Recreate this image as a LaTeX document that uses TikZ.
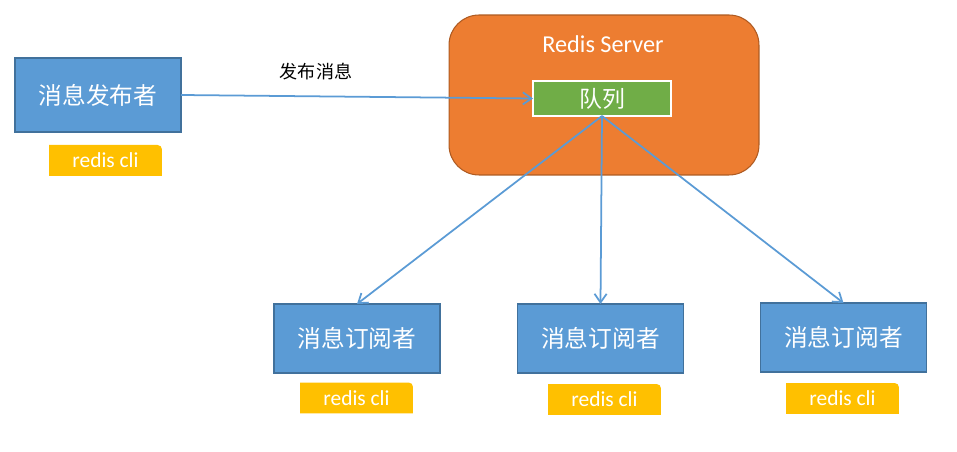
\documentclass[tikz,border=0pt]{standalone}
\usepackage{fontspec}
\setmainfont{Carlito}
\newfontfamily\cjk{Noto Sans CJK SC}
\usepackage{xcolor}
\usepackage{tikz}
\usetikzlibrary{arrows.meta,positioning}
\definecolor{boxblue}{HTML}{5B9BD5}
\definecolor{boxedge}{HTML}{41719C}
\definecolor{srvorange}{HTML}{ED7D31}
\definecolor{srvedge}{HTML}{AE5A21}
\definecolor{queuegreen}{HTML}{70AD47}
\definecolor{tagyellow}{HTML}{FFC000}

\begin{document}
\begin{tikzpicture}[x=0.02cm,y=-0.02cm,>={Straight Barb[angle=70:6pt]},
every node/.style={inner sep=0pt,outer sep=0pt},
client/.style={draw=boxedge,fill=boxblue,text=white,line width=0.6pt,minimum width=3.32cm,minimum height=1.38cm,font=\cjk\fontsize{13.5}{15}\selectfont},
tag/.style={minimum width=2.26cm,minimum height=0.62cm,text=white,font=\fontsize{12.2}{14}\selectfont,
 path picture={\fill[tagyellow](path picture bounding box.south west)--(path picture bounding box.north west)[rounded corners=2.5pt]--(path picture bounding box.north east)[sharp corners]--(path picture bounding box.south east)--cycle;}},
link/.style={->,draw=boxblue,line width=1pt}]
\useasboundingbox (0,0) rectangle (957,452);
% redis server
\node[draw=srvedge,fill=srvorange,line width=0.6pt,rounded corners=0.6cm,minimum width=6.2cm,minimum height=3.2cm](srv)at(604,95){};
\node[text=white,font=\fontsize{13.8}{16}\selectfont](srvname)at(603,44){Redis Server};
\node[draw=white,fill=queuegreen,line width=1.2pt,text=white,minimum width=2.76cm,minimum height=0.7cm,font=\cjk\fontsize{13}{15}\selectfont](queue)at(602,98.5){队列};
% publisher
\node[client,minimum height=1.48cm](pub)at(98,95){消息发布者};
\node[tag](pubtag)at(105.5,160.5){redis cli};
\node[font=\cjk\fontsize{10.3}{12}\selectfont](pubmsg)at(316,72){发布消息};
% subscribers
\node[client](suba)at(357,338.5){消息订阅者};
\node[client](subb)at(600.5,338.5){消息订阅者};
\node[client](subc)at(843.5,337.5){消息订阅者};
\node[tag](taga)at(356.5,398){redis cli};
\node[tag](tagb)at(604.5,399.5){redis cli};
\node[tag](tagc)at(842.5,398.5){redis cli};
% links
\draw[link](pub.east)--(queue.west);
\draw[link](queue.south)--(suba.north);
\draw[link](queue.south)--(subb.north);
\draw[link](queue.south)--(subc.north);
\end{tikzpicture}
\end{document}
